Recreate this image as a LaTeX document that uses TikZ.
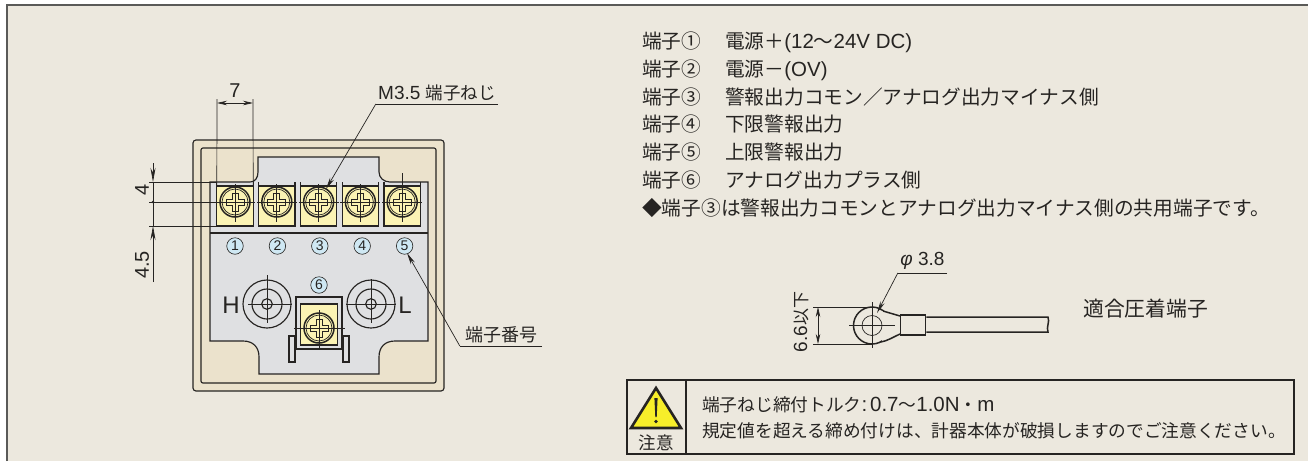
\documentclass[tikz,border=0pt]{standalone}
\usepackage{fontspec}
\setmainfont{Noto Sans CJK JP}
\newfontfamily\latinfont{Liberation Sans}
\usetikzlibrary{arrows.meta, positioning}
\definecolor{bgcol}{HTML}{ECE8DE}
\definecolor{framecol}{HTML}{5A5A58}
\definecolor{inkcol}{HTML}{262422}
\definecolor{bodycol}{HTML}{EBE2CC}
\definecolor{platecol}{HTML}{DFE0E2}
\definecolor{termcol}{HTML}{FBF3B4}
\definecolor{numcol}{HTML}{CFE8F3}
\definecolor{warncol}{HTML}{F7EE2A}
\tikzset{
  outline/.style={draw=inkcol, line width=1.15pt},
  heavyline/.style={draw=inkcol, line width=1.5pt},
  thinline/.style={draw=inkcol, line width=0.7pt},
  dimarrow/.style={thinline, {Stealth[length=10pt,width=4.5pt]}-{Stealth[length=10pt,width=4.5pt]}},
  leader/.style={thinline, -{Stealth[length=12pt,width=4.5pt]}},
  termbox/.style={outline, fill=termcol, rectangle, inner sep=0pt, outer sep=0pt, minimum width=36.4pt, minimum height=40pt},
  numdot/.style={circle, draw=inkcol, line width=0.6pt, fill=numcol, inner sep=0pt, minimum size=16.5pt, text=inkcol, font=\latinfont\fontsize{14}{14}\selectfont},
  dimlabel/.style={text=inkcol, inner sep=0pt, font=\latinfont\fontsize{20}{20}\selectfont},
  cjklabel/.style={text=inkcol, inner sep=0pt, font=\fontsize{18}{18}\selectfont},
  listtext/.style={text=inkcol, inner sep=0pt, anchor=west, text height=15pt, text depth=4pt, font=\fontsize{19.7}{20}\selectfont},
  notetext/.style={text=inkcol, inner sep=0pt, anchor=west, font=\fontsize{17.7}{18}\selectfont}
}
% one screw head, drawn round a named point
\newcommand{\screwhead}[1]{
  \begin{scope}[shift={(#1)}]
    \draw [heavyline] (0,0) circle (15);
    \draw [thinline] (0,0) circle (13);
    \draw [draw=inkcol, line width=0.9pt] (-3,-9) -- (3,-9) -- (3,-3) -- (9,-3) -- (9,3) -- (3,3) -- (3,9) -- (-3,9) -- (-3,3) -- (-9,3) -- (-9,-3) -- (-3,-3) -- cycle;
    \draw [thinline] (-20,0) -- (20,0);
    \draw [thinline] (0,-18) -- (0,20);
  \end{scope}
}
\newcommand{\termtics}[1]{
  \draw [outline] (#1.north west) -- ++(0,-4);
  \draw [outline] (#1.north east) -- ++(0,-4);
}
\newcommand{\termlabel}[1]{\makebox[83pt][l]{#1}}
\newcommand{\latinpart}[1]{{\latinfont\fontsize{20.5}{20}\selectfont #1}}
\begin{document}
\begin{tikzpicture}[x=1pt, y=-1pt, node distance=5.4pt]
  \useasboundingbox (0,0) rectangle (1308,461);
  % Draw the sheet
  \fill [white] (0,0) rectangle (1308,461);
  \fill [bgcol] (7,5) rectangle (1308,461);
  \draw [draw=framecol, line width=1.6pt] (7,461) -- (7,5) -- (1308,5);

  % Draw the meter body
  \draw [outline, fill=bodycol, rounded corners=3pt] (193,140) rectangle (444,391);
  \draw [outline, rounded corners=2pt] (201,148) rectangle (436,383);
  \draw [outline, fill=platecol] (210,182) -- (250,182) .. controls (255,182) and (258,178) .. (258,172) -- (258,157) -- (379,157) -- (379,172) .. controls (379,178) and (384,182) .. (390,182) -- (428,182) -- (428,341) -- (395,341) .. controls (385,341) and (379,347) .. (379,357) -- (379,374) -- (259,374) -- (259,357) .. controls (259,347) and (253,341) .. (243,341) -- (210,341) -- cycle;
  \draw [heavyline] (210,233) -- (428,233);

  % Draw the terminals
  \node (term1) [termbox] at (235,206) {};
  \node (term2) [termbox, right=of term1] {};
  \node (term3) [termbox, right=of term2] {};
  \node (term4) [termbox, right=of term3] {};
  \node (term5) [termbox, right=of term4] {};
  \termtics{term1}
  \termtics{term2}
  \termtics{term3}
  \termtics{term4}
  \termtics{term5}
  \coordinate (screw1) at (235,202);
  \coordinate (screw2) at (276.8,202);
  \coordinate (screw3) at (318.6,202);
  \coordinate (screw4) at (360.4,202);
  \coordinate (screw5) at (402.2,202);
  \screwhead{screw1}
  \screwhead{screw2}
  \screwhead{screw3}
  \screwhead{screw4}
  \screwhead{screw5}
  \draw [thinline] (402.2,173) -- (402.2,190);

  % Draw the terminal numbers
  \node (num1) [numdot] at (235,246) {1};
  \node (num2) [numdot, right=25.3pt of num1] {2};
  \node (num3) [numdot, right=25.3pt of num2] {3};
  \node (num4) [numdot, right=25.3pt of num3] {4};
  \node (num5) [numdot, right=25.3pt of num4] {5};
  \node (num6) [numdot] at (319,285) {6};

  % Draw the H and L jacks
  \coordinate (jackh) at (267,304);
  \coordinate (jackl) at (371,304);
  \draw [outline] (jackh) circle (24) (jackh) circle (15) (jackh) circle (5.3);
  \draw [outline] (jackl) circle (24) (jackl) circle (15) (jackl) circle (5.3);
  \draw [thinline] (248,304) -- (292,304) (267,275) -- (267,323);
  \draw [thinline] (346,304) -- (396,304) (371,279) -- (371,323);
  \node (labelh) [dimlabel, font=\latinfont\fontsize{24}{24}\selectfont] at (231,305) {H};
  \node (labell) [dimlabel, font=\latinfont\fontsize{24}{24}\selectfont] at (405,305) {L};

  % Draw terminal 6 with its clamp
  \draw [outline] (296,348) -- (296,297) -- (342,297) -- (342,348);
  \node (term6) [termbox, minimum height=41pt] at (319,324.5) {};
  \draw [outline, fill=platecol] (289,336) rectangle (295,362);
  \draw [outline, fill=platecol] (343,336) rectangle (349,362);
  \draw [outline] (295,349) -- (343,349);
  \coordinate (screw6) at (319,328);
  \screwhead{screw6}
  \draw [thinline] (294,328) -- (345,328);

  % Draw the dimensions
  \node (dim7) [dimlabel] at (235,91) {7};
  \coordinate (dim7a) at (217,103);
  \coordinate (dim7b) at (253,103);
  \draw [thinline] (217,99) -- (term1.north west);
  \draw [thinline] (253,99) -- (term1.north east);
  \draw [dimarrow] (dim7a) -- (dim7b);
  \draw [thinline] (149,182) -- (217,182);
  \draw [thinline] (149,202) -- (215,202);
  \draw [thinline] (149,226) -- (term1.south west);
  \draw [thinline, -{Stealth[length=14pt,width=5pt]}] (153,163) -- (153,182);
  \draw [thinline] (153,182) -- (153,226);
  \draw [thinline, -{Stealth[length=14pt,width=5pt]}] (153,282) -- (153,226);
  \fill [inkcol] (153,202) circle (1.3);
  \node (dim4) [dimlabel, rotate=90] at (142,190) {4};
  \node (dim45) [dimlabel, rotate=90] at (142,265) {4.5};

  % Draw the labels with leaders
  \node (screwlabel) [dimlabel, anchor=south, minimum width=122pt, inner ysep=3pt, font=\latinfont\fontsize{19}{19}\selectfont] at (437,104) {M3.5 {\rmfamily\fontsize{17.5}{18}\selectfont 端子ねじ}};
  \coordinate (screwtip) at (326,189);
  \draw [thinline] (screwlabel.south east) -- (screwlabel.south west);
  \draw [leader] (screwlabel.south west) -- (screwtip);
  \node (numlabel) [cjklabel, anchor=south, minimum width=82pt, inner ysep=3pt] at (501,346) {端子番号};
  \coordinate (numtip) at (407,253);
  \draw [thinline] (numlabel.south east) -- (numlabel.south west);
  \draw [leader] (numlabel.south west) -- (numtip);

  % Draw the text list
  \node (list1) [listtext] at (642,43) {\termlabel{端子①}電源＋\latinpart{(12}～\latinpart{24V DC)}};
  \node (list2) [listtext, below=8.4pt of list1.south west, anchor=north west] {\termlabel{端子②}電源－\latinpart{(OV)}};
  \node (list3) [listtext, below=8.4pt of list2.south west, anchor=north west] {\termlabel{端子③}警報出力コモン／アナログ出力マイナス側};
  \node (list4) [listtext, below=8.4pt of list3.south west, anchor=north west] {\termlabel{端子④}下限警報出力};
  \node (list5) [listtext, below=8.4pt of list4.south west, anchor=north west] {\termlabel{端子⑤}上限警報出力};
  \node (list6) [listtext, below=8.4pt of list5.south west, anchor=north west] {\termlabel{端子⑥}アナログ出力プラス側};
  \node (list7) [listtext, below=8.4pt of list6.south west, anchor=north west] {◆端子③は警報出力コモンとアナログ出力マイナス側の共用端子です。};

  % Draw the crimp terminal
  \draw [heavyline] (872,325.5) circle (18.5);
  \fill [bgcol] (882,311) -- (900,316) -- (900,334) -- (882,342) -- cycle;
  \draw [heavyline] (883,311) -- (900,316);
  \draw [heavyline] (880,342) .. controls (888,341) and (893,337) .. (900,334);
  \draw [thinline] (872,325.5) circle (10);
  \draw [thinline] (849,325.5) -- (895,325.5) (872,302) -- (872,348);
  \node (barrel) [heavyline, inner sep=0pt, minimum width=25pt, minimum height=20pt] at (913,325) {};
  \draw [heavyline] (barrel.east |- 0,317) -- (1048,317) .. controls (1050,322) and (1046,327) .. (1048,332) -- (barrel.east |- 0,332);
  \draw [thinline] (813,307) -- (872,307);
  \draw [thinline] (813,344) -- (872,344);
  \coordinate (ringtop) at (818,307);
  \coordinate (ringbot) at (818,344);
  \draw [dimarrow] (ringtop) -- (ringbot);
  \node (ringlabel) [dimlabel, rotate=90, font=\latinfont\fontsize{19}{19}\selectfont] at (801,322) {6.6{\rmfamily\fontsize{17}{17}\selectfont 以下}};
  \node (holelabel) [dimlabel, anchor=south, minimum width=49pt, inner ysep=3pt, font=\latinfont\fontsize{19}{19}\selectfont] at (922.5,273) {{\itshape φ} 3.8};
  \coordinate (holetip) at (877,313);
  \draw [thinline] (holelabel.south east) -- (holelabel.south west);
  \draw [leader] (holelabel.south west) -- (holetip);
  \node (crimplabel) [text=inkcol, inner sep=0pt, anchor=west, font=\fontsize{20.8}{21}\selectfont] at (1083,309) {適合圧着端子};

  % Draw the caution box
  \node (cautionbox) [outline, inner sep=0pt, minimum width=667pt, minimum height=74pt] at (960.5,417) {};
  \draw [outline] (686,380) -- (686,454);
  \draw [draw=inkcol, line width=2.6pt, fill=warncol, line join=miter] (656,388) -- (631,428) -- (681,428) -- cycle;
  \fill [inkcol] (654.4,398) -- (657.6,398) -- (656.7,417) -- (655.3,417) -- cycle;
  \fill [inkcol] (656,421.5) circle (1.8);
  \node (cautionword) [cjklabel, font=\fontsize{17.5}{18}\selectfont] at (656,443) {注意};
  \node (note1) [notetext] at (702,405) {端子ねじ締付トルク\latinpart{:}\,\latinpart{0.7}～\latinpart{1.0N}・\latinpart{m}};
  \node (note2) [notetext] at (702,431) {規定値を超える締め付けは、計器本体が破損しますのでご注意ください。};
\end{tikzpicture}
\end{document}
